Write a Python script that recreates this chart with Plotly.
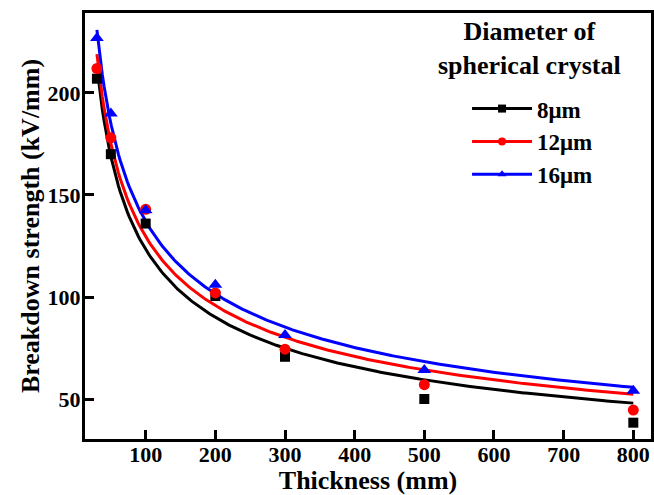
import numpy as np
import plotly.graph_objects as go

# ---- data ----
thickness = [30, 50, 100, 200, 300, 500, 800]
bd_8um = [207, 170, 136, 100.5, 70.7, 50, 38.4]
bd_12um = [212, 178, 143, 102, 74.4, 57, 44.6]
bd_16um = [227, 190, 142.5, 106, 81.4, 64.2, 54]
series_values = [bd_8um, bd_12um, bd_16um]
series_names = ["8μm", "12μm", "16μm"]

# power-law fit curves y = a * x^b, parameters
fit_a = [998, 965, 1007]
fit_b = [-0.454, -0.436, -0.433]
fit_range = [30, 800]

x_ticks = [100, 200, 300, 400, 500, 600, 700, 800]
y_ticks = [50, 100, 150, 200]

colors = ["#000000", "#ff0000", "#0000ff"]
symbols = ["square", "circle", "triangle-up"]
marker_sizes = [10, 11, 12]

FONT = "Liberation Serif"

fig = go.Figure()
xs = np.linspace(fit_range[0], fit_range[1], 300)
for i, name in enumerate(series_names):
    ys = fit_a[i] * xs ** fit_b[i]
    fig.add_trace(go.Scatter(x=xs, y=ys, mode="lines",
                             line=dict(color=colors[i], width=3),
                             showlegend=False, hoverinfo="skip"))
for i, name in enumerate(series_names):
    fig.add_trace(go.Scatter(x=thickness, y=series_values[i], mode="markers",
                             marker=dict(symbol=symbols[i], color=colors[i],
                                         size=marker_sizes[i]),
                             showlegend=False, name=name))
# legend entries (line + marker)
for i, name in enumerate(series_names):
    fig.add_trace(go.Scatter(x=[None], y=[None], mode="lines+markers", name=name,
                             line=dict(color=colors[i], width=3),
                             marker=dict(symbol=symbols[i], color=colors[i], size=8)))

axis_common = dict(showline=True, linewidth=3, linecolor="black", mirror=True,
                   ticks="inside", ticklen=9, tickwidth=3, tickcolor="black",
                   showgrid=False, zeroline=False, automargin=False,
                   tickfont=dict(family=FONT, size=22, color="black", weight="bold"))

fig.update_layout(
    width=654, height=495,
    margin=dict(l=85, r=3, t=13, b=56),
    paper_bgcolor="white", plot_bgcolor="white",
    xaxis=dict(range=[12.9, 825.4], tickvals=x_ticks, ticklabelstandoff=-6,
               title=dict(text="Thickness (mm)", standoff=8,
                          font=dict(family=FONT, size=26, color="black", weight="bold")),
               **axis_common),
    yaxis=dict(range=[30.4, 239.2], tickvals=y_ticks, ticklabelstandoff=-3,
               title=dict(text="Breakdown strength (kV/mm)", standoff=1,
                          font=dict(family=FONT, size=26, color="black", weight="bold")),
               **axis_common),
    legend=dict(x=0.675, y=0.826, xanchor="left", yanchor="top",
                bgcolor="rgba(0,0,0,0)", borderwidth=0, itemwidth=60,
                font=dict(family=FONT, size=23, color="black", weight="bold")),
    annotations=[dict(text="Diameter of<br>spherical crystal", xref="paper", yref="paper",
                      x=0.786, y=0.9155, xanchor="center", yanchor="middle",
                      showarrow=False, align="center",
                      font=dict(family=FONT, size=26, color="black", weight="bold"))],
)

fig.write_html("out.html")
